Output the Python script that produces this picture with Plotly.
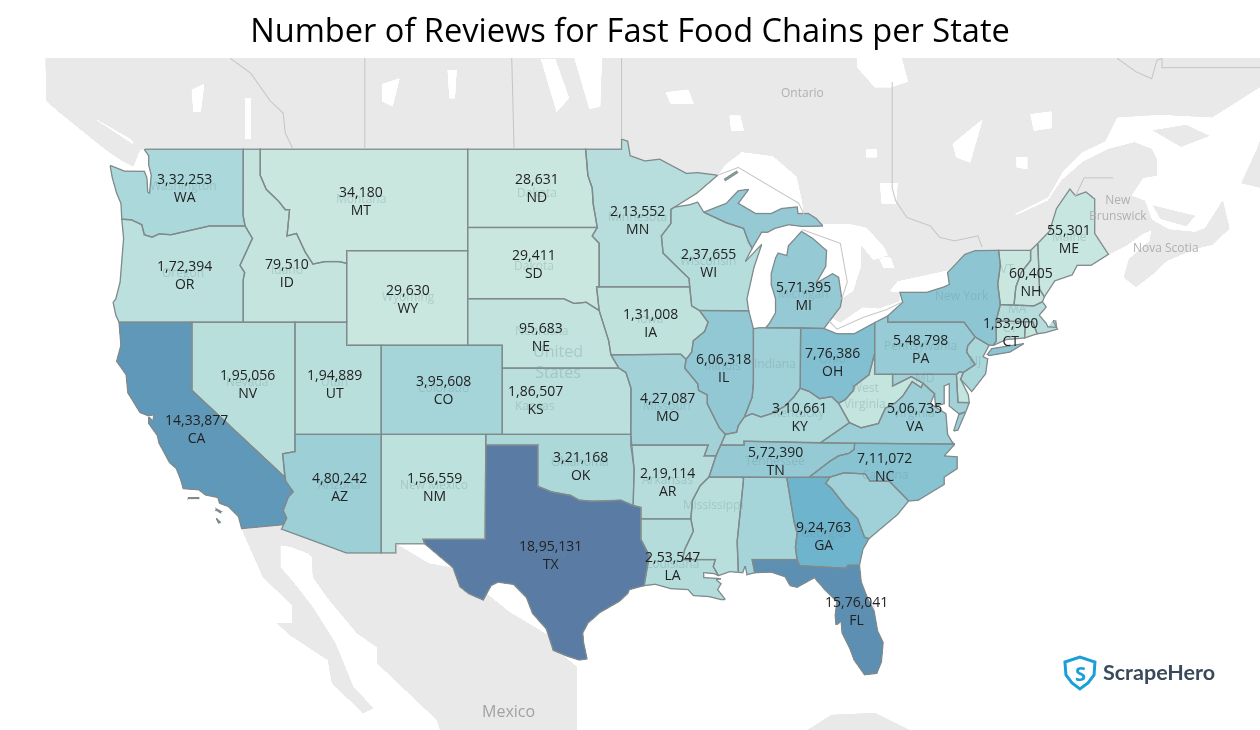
import math

import plotly.graph_objects as go

# Review counts per state (unlabelled states estimated from their colour)
states = ["WA", "OR", "CA", "NV", "ID", "MT", "WY", "UT", "AZ", "CO", "NM", "ND", "SD", "NE", "KS", "OK", "TX",
          "MN", "IA", "MO", "AR", "LA", "WI", "IL", "MI", "IN", "OH", "KY", "TN", "MS", "AL", "GA", "FL", "SC",
          "NC", "VA", "WV", "MD", "DE", "PA", "NJ", "NY", "CT", "RI", "MA", "VT", "NH", "ME"]
reviews = [332253, 172394, 1433877, 195056, 79510, 34180, 29630, 194889, 480242, 395608, 156559, 28631, 29411,
           95683, 186507, 321168, 1895131, 213552, 131008, 427087, 219114, 253547, 237655, 606318, 571395, 450000,
           776386, 310661, 572390, 190000, 380000, 924763, 1576041, 450000, 711072, 506735, 90000, 430000, 90000,
           548798, 340000, 660000, 133900, 70000, 220000, 30000, 60405, 55301]
unlabelled = ["IN", "MS", "AL", "SC", "WV", "MD", "DE", "NJ", "NY", "RI", "MA", "VT"]


def traced(points):
    # outline: pixels to lon/lat (Mercator, 17.3 px per degree)
    out = []
    for x, y in points:
        m = 0.9838 - (y - 149) / 991
        out.append((-131.08 + x / 17.3, math.degrees(2 * math.atan(math.exp(m))) - 90))
    return out


# Shared borders, lon/lat
COLUMBIA = [(-124.05, 46.27), (-123.5, 46.25), (-123.2, 46.15), (-122.9, 46.05), (-122.8, 45.85), (-122.75, 45.65),
            (-122.3, 45.55), (-121.9, 45.68), (-121.2, 45.65), (-120.6, 45.73), (-119.9, 45.84), (-119.3, 45.93),
            (-118.98, 46.0), (-116.92, 46.0)]
SNAKE = [(-116.92, 46.0), (-116.78, 45.8), (-116.5, 45.5), (-116.85, 44.95), (-117.22, 44.4), (-117.03, 44.2),
         (-116.95, 44.1), (-117.03, 43.8), (-117.03, 42.0)]
COLORADO = [(-114.63, 35.0), (-114.57, 34.8), (-114.14, 34.3), (-114.43, 34.05), (-114.72, 33.4), (-114.52, 33.03),
            (-114.72, 32.72)]
BITTERROOT = [(-116.05, 49.0), (-116.05, 48.0), (-115.7, 47.45), (-115.0, 47.0), (-114.6, 46.65), (-114.35, 46.65),
              (-114.5, 45.6), (-113.95, 45.7), (-113.45, 44.95), (-113.0, 44.45), (-112.3, 44.55), (-111.5, 44.55),
              (-111.05, 44.48)]
RED_RIVER = [(-100.0, 34.56), (-99.2, 34.3), (-98.1, 34.13), (-97.6, 33.9), (-96.9, 33.85), (-96.0, 33.85),
             (-95.2, 33.9), (-94.48, 33.64)]
RIO_GRANDE = [(-97.15, 25.96), (-97.6, 25.9), (-98.3, 26.1), (-99.1, 26.4), (-99.5, 27.5), (-100.3, 28.3),
              (-100.65, 29.1), (-101.4, 29.77), (-102.3, 29.88), (-102.7, 29.7), (-103.15, 28.98), (-104.0, 29.3),
              (-104.5, 29.65), (-104.9, 30.6), (-106.0, 31.4), (-106.53, 31.78)]
SABINE = [(-94.04, 33.0), (-94.04, 32.0), (-93.55, 31.2), (-93.7, 30.5), (-93.85, 29.7)]
MINN_DAKOTA = [(-97.23, 49.0), (-97.1, 48.0), (-96.85, 47.5), (-96.8, 46.9), (-96.56, 45.94)]
SD_MN = [(-96.56, 45.94), (-96.85, 45.6), (-96.45, 45.3), (-96.45, 43.5)]
MISSOURI_R = [(-96.45, 42.5), (-96.1, 41.7), (-95.9, 41.2), (-95.77, 40.58)]
MISS_UPPER = [(-92.3, 46.66), (-92.3, 46.1), (-92.85, 45.6), (-92.75, 44.9), (-92.0, 44.4), (-91.25, 43.85),
              (-91.22, 43.5)]
MISS_IA_WI = [(-91.22, 43.5), (-91.1, 42.7), (-90.65, 42.5)]
MISS_IA_IL = [(-90.65, 42.5), (-90.15, 42.0), (-90.35, 41.6), (-91.0, 41.2), (-91.1, 40.7), (-91.42, 40.38)]
MISS_MO_IL = [(-91.42, 40.38), (-91.5, 40.0), (-90.75, 39.3), (-90.7, 39.0), (-90.2, 38.8), (-90.2, 38.4),
              (-89.9, 37.9), (-89.5, 37.3), (-89.15, 37.0)]
MISS_MO_KY = [(-89.15, 37.0), (-89.42, 36.5), (-89.7, 36.0)]
MISS_AR_TN = [(-89.7, 36.0), (-90.1, 35.0)]
MISS_AR_MS = [(-90.1, 35.0), (-90.6, 34.6), (-91.05, 33.9), (-91.15, 33.0)]
MISS_LA_MS = [(-91.15, 33.0), (-91.0, 32.4), (-91.5, 31.5), (-91.63, 31.0)]
OHIO_IN = [(-84.82, 39.1), (-85.2, 38.7), (-85.75, 38.27), (-86.5, 37.95), (-87.1, 37.8), (-87.6, 37.95), (-88.05, 37.8)]
OHIO_IL = [(-88.05, 37.8), (-88.4, 37.4), (-88.5, 37.1), (-89.15, 37.0)]
OHIO_KY = [(-84.82, 39.1), (-84.3, 38.95), (-83.7, 38.63), (-83.0, 38.72), (-82.6, 38.42)]
OHIO_WV = [(-82.6, 38.42), (-82.2, 38.6), (-81.75, 39.0), (-81.7, 39.2), (-80.85, 39.7), (-80.52, 40.64)]
KY_VA = [(-82.6, 38.42), (-82.0, 37.55), (-81.97, 37.54), (-83.68, 36.6)]
TN_NC = [(-81.68, 36.59), (-81.7, 36.3), (-82.0, 36.12), (-82.6, 36.0), (-83.1, 35.75), (-84.32, 34.99)]
VA_WV = [(-81.97, 37.54), (-81.3, 37.3), (-80.3, 37.5), (-79.9, 38.2), (-79.3, 38.45), (-78.87, 38.77), (-78.35, 39.4),
         (-77.83, 39.13), (-77.72, 39.32)]
GA_SC = [(-83.1, 35.0), (-83.35, 34.7), (-83.0, 34.45), (-82.2, 33.6), (-81.5, 33.0), (-81.1, 32.1), (-80.85, 32.03)]
NC_SC = [(-83.1, 35.0), (-82.3, 35.2), (-81.05, 35.15), (-80.8, 34.82), (-79.67, 34.8), (-78.55, 33.86)]
GA_AL = [(-85.6, 34.98), (-85.18, 32.87), (-85.0, 32.3), (-85.1, 31.6), (-85.0, 31.0)]
PA_NJ = [(-74.7, 41.36), (-75.13, 40.99), (-75.2, 40.7), (-74.72, 40.15), (-75.4, 39.8)]
NY_VT = [(-73.35, 45.01), (-73.25, 44.4), (-73.4, 43.6), (-73.25, 42.75)]
VT_NH = [(-71.5, 45.01), (-71.5, 44.6), (-72.05, 44.1), (-72.35, 43.5), (-72.46, 42.73)]
ME_EAST = [(-71.08, 45.3), (-70.4, 45.8), (-70.25, 46.2), (-70.0, 46.7), (-69.23, 47.46), (-68.9, 47.2), (-68.3, 47.35),
           (-67.79, 47.07), (-67.79, 45.7), (-67.45, 45.3), (-67.0, 44.85)]
MN_NORTH = [(-97.23, 49.0), (-95.15, 49.0), (-95.15, 49.38), (-94.8, 49.3), (-94.65, 48.75), (-93.8, 48.55),
            (-92.95, 48.62), (-92.0, 48.3), (-91.4, 48.07), (-90.75, 48.1), (-89.6, 48.0)]
WI_MI = [(-90.4, 46.55), (-89.1, 46.13), (-88.1, 45.9), (-87.8, 45.35), (-87.6, 45.1)]

state_shapes = {
    "WA": [[(-122.76, 49.0), (-117.03, 49.0), (-117.04, 46.42)] + COLUMBIA[::-1] +
           [(-124.1, 46.9), (-124.35, 47.3), (-124.6, 47.9), (-124.73, 48.38), (-123.9, 48.16), (-123.1, 48.15),
            (-122.75, 48.15), (-122.6, 47.9), (-122.55, 47.35), (-122.45, 47.3), (-122.4, 47.6), (-122.35, 48.0),
            (-122.5, 48.4), (-122.5, 48.75)]],
    "OR": [COLUMBIA + SNAKE[1:] +
           [(-120.0, 42.0), (-124.21, 42.0), (-124.4, 42.3), (-124.55, 42.84), (-124.4, 43.0), (-124.15, 43.7),
            (-124.08, 44.6), (-123.95, 45.5)]],
    "CA": [[(-124.21, 42.0), (-120.0, 42.0), (-120.0, 39.0)] + COLORADO +
           [(-117.12, 32.53), (-117.25, 32.85), (-117.3, 33.1), (-117.9, 33.6), (-118.4, 33.75), (-118.5, 34.03),
            (-119.2, 34.15), (-119.6, 34.4), (-120.5, 34.45), (-120.65, 34.9), (-120.9, 35.4), (-121.3, 35.7),
            (-121.9, 36.6), (-122.0, 36.95), (-122.5, 37.5), (-122.5, 37.8), (-122.25, 37.6), (-122.2, 37.9),
            (-122.5, 37.85), (-123.0, 38.0), (-123.7, 38.9), (-123.8, 39.7), (-124.35, 40.3), (-124.1, 41.0)],
           [(-120.2, 34.02), (-119.6, 34.02), (-119.6, 33.98), (-120.2, 33.98)],
           [(-118.6, 33.48), (-118.3, 33.35), (-118.35, 33.3), (-118.6, 33.42)],
           [(-118.6, 33.03), (-118.35, 32.82), (-118.45, 32.8), (-118.6, 32.98)]],
    "NV": [[(-120.0, 42.0), (-114.04, 42.0), (-114.04, 36.2), (-114.75, 36.1), (-114.63, 35.0), (-120.0, 39.0)]],
    "ID": [[(-117.03, 49.0)] + BITTERROOT + [(-111.05, 42.0)] + SNAKE[::-1] + [(-117.04, 46.42)]],
    "MT": [BITTERROOT[:1] + [(-104.05, 49.0), (-104.05, 45.0), (-111.05, 45.0)] + BITTERROOT[:0:-1]],
    "WY": [[(-111.05, 45.0), (-104.05, 45.0), (-104.05, 41.0), (-111.05, 41.0)]],
    "UT": [[(-114.04, 42.0), (-111.05, 42.0), (-111.05, 41.0), (-109.05, 41.0), (-109.05, 37.0), (-114.04, 37.0)]],
    "AZ": [[(-114.04, 37.0), (-109.05, 37.0), (-109.05, 31.33), (-111.07, 31.33), (-114.81, 32.5)] + COLORADO[::-1] +
           [(-114.75, 36.1), (-114.04, 36.2)]],
    "CO": [[(-109.05, 41.0), (-102.05, 41.0), (-102.05, 37.0), (-109.05, 37.0)]],
    "NM": [[(-109.05, 37.0), (-103.0, 37.0), (-103.04, 32.0), (-106.62, 32.0), (-106.53, 31.78), (-108.21, 31.78),
            (-108.21, 31.33), (-109.05, 31.33)]],
    "ND": [[(-104.05, 49.0)] + MINN_DAKOTA + [(-104.05, 45.94)]],
    "SD": [[(-104.05, 45.94)] + SD_MN + [(-96.6, 43.5), (-96.45, 42.5), (-97.2, 42.85), (-97.9, 42.8), (-98.5, 43.0),
                                        (-104.05, 43.0)]],
    "NE": [[(-104.05, 43.0), (-98.5, 43.0), (-97.9, 42.8), (-97.2, 42.85)] + MISSOURI_R +
           [(-95.31, 40.0), (-102.05, 40.0), (-102.05, 41.0), (-104.05, 41.0)]],
    "KS": [[(-102.05, 40.0), (-95.31, 40.0), (-94.9, 39.8), (-94.61, 39.1), (-94.62, 37.0), (-102.05, 37.0)]],
    "OK": [[(-103.0, 37.0), (-94.62, 37.0), (-94.43, 35.4)] + RED_RIVER[::-1] + [(-100.0, 36.5), (-103.0, 36.5)]],
    "TX": [[(-106.62, 32.0), (-103.04, 32.0), (-103.0, 36.5), (-100.0, 36.5)] + RED_RIVER +
           [(-94.04, 33.55)] + SABINE +
           [(-94.7, 29.5), (-94.8, 29.3), (-95.3, 28.9), (-96.4, 28.35), (-97.1, 27.8), (-97.4, 27.3), (-97.35, 26.8)] +
           RIO_GRANDE],
    "MN": [MN_NORTH + [(-90.8, 47.3)] + MISS_UPPER + SD_MN[::-1] + MINN_DAKOTA[::-1][1:]],
    "IA": [[(-96.6, 43.5), (-96.45, 43.5)] + MISS_IA_WI + MISS_IA_IL[1:] + [(-91.73, 40.61)] + MISSOURI_R[::-1]],
    "MO": [[(-95.77, 40.58), (-91.73, 40.61)] + MISS_MO_IL + MISS_MO_KY[1:] +
           [(-90.37, 36.0), (-90.15, 36.5), (-94.62, 36.5), (-94.62, 37.0), (-94.61, 39.1), (-94.9, 39.8),
            (-95.31, 40.0)]],
    "AR": [[(-94.62, 36.5), (-90.15, 36.5), (-90.37, 36.0)] + MISS_AR_TN + MISS_AR_MS[1:] +
           [(-94.04, 33.0), (-94.04, 33.55), (-94.48, 33.64), (-94.43, 35.4)]],
    "LA": [[(-94.04, 33.0)] + MISS_LA_MS +
           [(-89.73, 31.0), (-89.85, 30.65), (-89.55, 30.2), (-89.8, 30.3), (-90.4, 30.35), (-90.4, 30.1), (-89.9, 30.05),
            (-89.4, 30.05), (-89.7, 30.0), (-89.4, 29.8), (-89.6, 29.5), (-89.15, 29.0), (-89.4, 29.0), (-90.1, 29.15),
            (-91.0, 29.2), (-91.3, 29.5), (-91.8, 29.5), (-92.3, 29.55), (-93.2, 29.77)] +
           SABINE[:0:-1]],
    "WI": [[(-92.3, 46.66), (-92.1, 46.75), (-91.2, 46.85), (-90.75, 46.95)] + WI_MI +
           [(-88.0, 44.55), (-87.05, 45.25), (-87.5, 44.3), (-87.9, 43.0), (-87.8, 42.49)] +
           MISS_IA_WI[::-1] + MISS_UPPER[:-1][::-1]],
    "IL": [[(-90.65, 42.5), (-87.8, 42.49), (-87.53, 41.72), (-87.53, 39.35), (-87.6, 38.7)] + OHIO_IL +
           MISS_MO_IL[::-1][1:] + MISS_IA_IL[::-1][1:-1]],
    "IN": [[(-87.53, 41.72), (-87.2, 41.76), (-86.82, 41.76), (-84.8, 41.76)] + OHIO_IN +
           [(-87.6, 38.7), (-87.53, 39.35)]],
    "MI": [[(-86.82, 41.76), (-84.8, 41.76), (-83.45, 41.73), (-83.15, 42.05), (-82.5, 42.65), (-82.42, 43.0),
            (-82.6, 43.9), (-82.95, 44.05), (-83.9, 43.65), (-83.35, 44.35), (-83.3, 45.0), (-84.1, 45.5), (-84.75, 45.78),
            (-85.0, 45.6), (-85.5, 45.2), (-85.6, 44.8), (-86.1, 44.9), (-86.25, 44.7), (-86.5, 44.05), (-86.5, 43.6),
            (-86.25, 43.0), (-86.25, 42.4), (-86.6, 41.95)],
           [(-90.4, 46.55), (-89.1, 46.9), (-88.4, 47.4), (-87.8, 47.45), (-88.4, 46.9), (-87.4, 46.5), (-86.5, 46.5),
            (-85.9, 46.7), (-85.0, 46.76), (-84.95, 46.5), (-84.35, 46.5), (-83.9, 46.3), (-83.5, 46.0), (-84.1, 46.0),
            (-84.7, 45.98), (-85.5, 46.05), (-86.3, 45.9), (-86.7, 45.75), (-87.05, 45.75)] + WI_MI[::-1][:-1],
           [(-89.2, 47.85), (-88.5, 48.15), (-88.45, 48.1), (-89.15, 47.8)]],
    "OH": [[(-84.8, 41.76), (-83.45, 41.73), (-82.7, 41.5), (-81.7, 41.5), (-80.52, 41.98)] + OHIO_WV[::-1] +
           OHIO_KY[::-1][1:]],
    "KY": [OHIO_KY + KY_VA[1:] + [(-88.07, 36.68), (-88.07, 36.5), (-89.42, 36.5), (-89.15, 37.0)] + OHIO_IL[::-1][1:] +
           OHIO_IN[::-1][1:-1]],
    "TN": [[(-89.42, 36.5), (-88.07, 36.5), (-88.07, 36.68), (-83.68, 36.6)] + TN_NC +
           [(-85.6, 34.98), (-88.2, 35.0), (-90.1, 35.0), (-89.7, 36.0)]],
    "MS": [[(-90.1, 35.0), (-88.2, 35.0), (-88.1, 34.9), (-88.47, 31.9), (-88.4, 30.37), (-88.9, 30.4), (-89.55, 30.2),
            (-89.85, 30.65), (-89.73, 31.0)] + MISS_LA_MS[::-1] + MISS_AR_MS[::-1][1:-1]],
    "AL": [[(-88.2, 35.0)] + GA_AL + [(-87.6, 31.0), (-87.45, 30.35), (-87.9, 30.25), (-88.0, 30.7), (-88.15, 30.35),
                                      (-88.4, 30.37), (-88.47, 31.9), (-88.1, 34.9)]],
    "GA": [[(-85.6, 34.98), (-84.32, 34.99)] + GA_SC +
           [(-81.2, 31.5), (-81.4, 30.72), (-82.05, 30.72), (-82.2, 30.57), (-84.86, 30.7)] + GA_AL[::-1][:-1]],
    "FL": [[(-87.6, 31.0), (-85.0, 31.0), (-84.86, 30.7), (-82.2, 30.57), (-82.05, 30.72), (-81.4, 30.72), (-81.3, 29.9),
            (-80.9, 29.0), (-80.55, 28.4), (-80.35, 27.4), (-80.03, 26.8), (-80.13, 25.8), (-80.4, 25.2), (-81.1, 25.13),
            (-81.7, 25.9), (-81.95, 26.5), (-82.4, 27.3), (-82.45, 27.9), (-82.75, 27.7), (-82.8, 28.2), (-82.7, 28.9),
            (-83.4, 29.5), (-84.0, 30.1), (-85.0, 29.62), (-85.4, 29.7), (-85.7, 30.15), (-86.5, 30.38), (-87.45, 30.35)]],
    "SC": [NC_SC + [(-79.2, 33.2), (-79.9, 32.7)] + GA_SC[::-1][:-1]],
    "NC": [[(-81.68, 36.59), (-75.87, 36.55), (-76.5, 36.0), (-75.75, 35.95), (-75.75, 35.4), (-76.5, 35.0), (-76.5, 34.65),
            (-77.6, 34.1), (-78.0, 33.9)] + NC_SC[::-1] + [(-84.32, 34.99)] + TN_NC[::-1][1:-1]],
    "VA": [[(-83.68, 36.6), (-81.97, 37.54)] + VA_WV[1:] +
           [(-77.05, 38.85), (-77.3, 38.4), (-76.4, 37.95), (-76.3, 37.0), (-75.97, 36.55), (-75.87, 36.55),
            (-81.68, 36.59)],
           [(-75.95, 37.15), (-75.65, 37.9), (-75.25, 38.03), (-75.7, 37.2)]],
    "WV": [OHIO_WV + [(-80.52, 39.72), (-79.48, 39.72), (-79.48, 39.2), (-78.4, 39.62)] + VA_WV[::-1] + [(-82.0, 37.55)]],
    "MD": [[(-79.48, 39.72), (-75.79, 39.72), (-75.7, 38.46), (-75.05, 38.45), (-75.25, 38.03), (-75.65, 37.95),
            (-76.2, 38.3), (-76.2, 39.3), (-76.5, 39.2), (-76.5, 38.4), (-77.0, 38.3), (-77.05, 38.85), (-77.72, 39.32),
            (-78.4, 39.62), (-79.48, 39.2)]],
    "DE": [[(-75.79, 39.72), (-75.6, 39.83), (-75.4, 39.8), (-75.55, 39.5), (-75.1, 38.8), (-75.05, 38.45), (-75.7, 38.46)]],
    "PA": [[(-80.52, 41.98), (-79.76, 42.27), (-79.76, 42.0), (-75.35, 42.0)] + PA_NJ +
           [(-75.6, 39.83), (-75.79, 39.72), (-80.52, 39.72), (-80.52, 40.64)]],
    "NJ": [[(-74.7, 41.36), (-73.9, 41.0), (-74.25, 40.5), (-73.98, 40.4), (-74.1, 39.75), (-74.9, 38.95),
            (-75.55, 39.5)] + PA_NJ[::-1][:-1]],
    "NY": [[(-79.76, 42.27), (-78.9, 42.85), (-79.05, 43.27), (-77.5, 43.27), (-76.5, 43.5), (-76.2, 43.6), (-76.3, 44.1),
            (-75.3, 44.85), (-74.7, 45.0)] + NY_VT +
           [(-73.5, 42.05), (-73.48, 41.2), (-73.65, 41.0), (-73.9, 41.0), (-74.7, 41.36), (-75.35, 42.0), (-79.76, 42.0)],
           [(-74.0, 40.6), (-73.75, 40.85), (-72.6, 40.98), (-71.9, 41.07), (-72.7, 40.7), (-73.9, 40.55)]],
    "VT": [NY_VT[:1] + VT_NH + NY_VT[::-1][:-1]],
    "NH": [VT_NH[:1] + [(-71.08, 45.3), (-70.98, 43.4), (-70.7, 43.08), (-70.82, 42.87), (-71.3, 42.7)] + VT_NH[:0:-1]],
    "ME": [ME_EAST + [(-68.0, 44.4), (-68.8, 44.4), (-69.1, 44.0), (-70.1, 43.75), (-70.7, 43.08), (-70.98, 43.4)]],
    "MA": [[(-73.5, 42.05), (-73.25, 42.75), (-72.46, 42.73), (-71.3, 42.7), (-70.82, 42.87), (-70.6, 42.65), (-71.0, 42.3),
            (-70.6, 41.95), (-70.5, 41.8), (-70.0, 41.78), (-70.05, 42.05), (-70.2, 42.07), (-69.95, 41.7), (-70.65, 41.55),
            (-71.12, 41.5), (-71.38, 42.02), (-71.8, 42.02)]],
    "RI": [[(-71.8, 42.02), (-71.38, 42.02), (-71.12, 41.5), (-71.85, 41.32)]],
    "CT": [[(-73.5, 42.05), (-71.8, 42.02), (-71.85, 41.32), (-72.9, 41.25), (-73.65, 41.0), (-73.48, 41.2)]],
}

# Base map: land around the states, lakes cut out on top of it
land_shapes = {
    "CAN": [[(-135.0, 58.0), (-128.5, 54.0), (-128.4, 50.8), (-127.7, 50.4), (-126.7, 49.9), (-125.0, 49.0), (-124.0, 48.55),
             (-123.4, 48.35), (-123.2, 48.65), (-123.0, 49.0)] +
            [(-97.23, 49.0)] + MN_NORTH[1:] +
            [(-89.2, 48.4), (-88.2, 48.9), (-86.4, 48.75), (-85.0, 47.95), (-84.7, 47.0), (-84.6, 46.5), (-84.1, 46.3),
             (-83.6, 46.1), (-82.0, 46.1), (-81.0, 45.95), (-80.0, 45.2), (-79.7, 44.8), (-80.6, 44.6), (-81.3, 45.2),
             (-81.3, 44.3), (-81.75, 43.3), (-82.42, 43.0), (-82.5, 42.65), (-83.1, 42.25), (-82.5, 42.0), (-81.2, 42.65),
             (-80.3, 42.6), (-79.1, 42.9), (-79.05, 43.25), (-79.7, 43.3), (-79.2, 43.75), (-77.5, 44.0), (-76.3, 44.2),
             (-75.3, 44.85), (-74.7, 45.0), (-71.5, 45.01)] + ME_EAST +
            [(-66.0, 45.2), (-65.0, 45.7), (-64.5, 45.85), (-64.6, 45.4), (-65.8, 44.65), (-66.1, 43.9), (-65.4, 43.5),
             (-64.5, 44.0), (-63.6, 44.6), (-61.9, 45.1), (-61.0, 45.25), (-60.0, 45.9), (-60.4, 47.0), (-61.4, 45.9),
             (-62.0, 45.75), (-63.5, 45.85), (-64.5, 46.25), (-64.9, 47.0), (-65.7, 47.2), (-65.0, 47.9), (-64.2, 48.0),
             (-64.2, 48.6), (-64.5, 49.0), (-65.5, 49.25), (-67.0, 49.0), (-68.5, 48.5), (-69.7, 47.8), (-70.5, 47.0),
             (-72.4, 46.4), (-72.4, 46.5), (-70.5, 47.15), (-69.7, 48.1), (-68.5, 48.9), (-67.2, 49.3), (-66.5, 50.2),
             (-64.0, 50.3), (-61.0, 50.2), (-58.0, 51.4), (-55.0, 52.0), (-55.0, 58.0)]],
    "MEX": [RIO_GRANDE[::-1] +
            [(-108.21, 31.78), (-108.21, 31.33), (-111.07, 31.33), (-114.81, 32.5), (-114.72, 32.72), (-117.12, 32.53)] +
            traced([(263, 577), (275, 588), (292, 605), (292, 623), (277, 623), (290, 635), (328, 660), (332, 683), (363, 713),
                    (373, 708), (353, 687), (335, 643), (313, 608), (297, 587), (280, 567), (280, 545), (302, 548), (312, 557),
                    (313, 577), (327, 597), (357, 633), (377, 647), (377, 663), (437, 720), (450, 760), (577, 760), (577, 667)])],
    "CUB": [[(-84.9, 21.9), (-83.0, 23.0), (-80.5, 23.1), (-77.0, 21.5), (-80.0, 21.5)]],
    "ANT": [[(-62.5, 49.9), (-61.2, 49.5), (-62.8, 49.1), (-64.4, 49.7)]],
    "NFL": [[(-59.3, 47.7), (-58.4, 49.0), (-57.5, 50.5), (-55.0, 50.0), (-55.0, 47.0)]],
    "PEI": [[(-64.4, 46.8), (-62.0, 46.4), (-62.5, 46.0), (-64.0, 46.3)]],
    "LK1": [[(-99.8, 52.3), (-99.0, 52.3), (-98.2, 50.9), (-98.9, 50.4), (-99.3, 51.2)]],
    "LK2": [[(-97.9, 52.4), (-96.3, 52.4), (-96.4, 50.6), (-97.0, 50.5)]],
    "LK3": [[(-88.9, 50.25), (-88.3, 50.25), (-88.1, 49.7), (-88.8, 49.7)]],
    "LK4": [[(-92.6, 51.1), (-91.3, 51.2), (-91.0, 50.7), (-92.3, 50.7)]],
    "LK5": [[(-76.0, 49.2), (-74.3, 50.1), (-75.0, 48.5), (-75.8, 48.7)]],
    "LK6": [[(-71.5, 50.3), (-70.3, 50.4), (-70.3, 49.8), (-71.3, 49.7)]],
    "LK7": [[(-72.3, 48.7), (-71.7, 48.7), (-71.7, 48.25), (-72.3, 48.3)]],
    "LK8": [[(-80.2, 47.7), (-79.2, 47.7), (-79.3, 46.9), (-80.1, 46.9)]],
    "LK9": [[(-81.0, 49.0), (-80.4, 49.0), (-80.4, 48.7), (-81.0, 48.7)]],
    "LK10": [[(-80.3, 44.75), (-79.6, 44.7), (-79.4, 44.3), (-80.0, 44.3)]],
    "LK11": [[(-109.0, 51.4), (-108.0, 51.6), (-108.4, 50.6), (-109.0, 50.8)]],
    "LK12": [[(-105.2, 51.9), (-104.7, 51.9), (-104.8, 50.9), (-105.1, 50.9)]],
    "LK13": [[(-120.0, 51.2), (-119.3, 51.4), (-119.5, 50.4), (-119.9, 50.4)]],
    "LK14": [[(-116.9, 50.9), (-116.6, 50.9), (-116.6, 49.4), (-116.9, 49.4)]],
    "LK15": [[(-125.5, 50.1), (-123.5, 49.35), (-123.4, 49.2), (-125.3, 50.0)]],
    "LK16": [[(-81.5, 52.4), (-79.0, 52.4), (-78.6, 51.5), (-79.6, 51.3), (-80.5, 51.3), (-81.5, 52.0)]],
}
land_ids = list(land_shapes)
land_level = [0 if k.startswith("LK") else 1 for k in land_ids]

# Thin boundaries drawn over the base map
boundary_lines = [
    [(-117.78, 52.33), (-116.6, 51.8), (-115.47, 50.8), (-114.72, 50.35), (-114.6, 49.6), (-114.15, 49.0)],
    [(-110.0, 52.33), (-110.0, 49.0)],
    [(-101.5, 52.33), (-101.37, 49.0)],
    [(-95.15, 52.33), (-95.15, 49.38)],
    [(-79.5, 51.5), (-79.5, 47.5), (-79.3, 47.0), (-78.65, 46.34), (-77.3, 46.0), (-76.75, 45.54), (-75.9, 45.4),
     (-74.55, 45.6), (-74.3, 45.14)],
    [(-68.9, 47.2), (-68.4, 47.9), (-67.6, 47.9), (-66.75, 47.9)],
    [(-66.5, 52.33), (-65.4, 51.85), (-64.5, 51.6), (-64.2, 52.25), (-63.9, 52.33), (-63.9, 52.0), (-58.25, 52.0)],
    [(-89.6, 48.0), (-88.4, 48.3), (-84.9, 46.9), (-84.6, 46.45)],
    [(-84.7, 45.85), (-82.5, 45.3), (-82.1, 43.7), (-82.42, 43.0)],
    [(-83.15, 42.05), (-82.7, 41.7), (-81.2, 42.2), (-79.8, 42.55), (-78.95, 42.85)],
]


def to_geojson(shapes):
    features = []
    for key, rings in shapes.items():
        coords = [[[list(p) for p in r + r[:1]]] for r in rings]
        features.append({"type": "Feature", "id": key, "properties": {},
                         "geometry": {"type": "MultiPolygon", "coordinates": coords}})
    return {"type": "FeatureCollection", "features": features}


def indian(n):
    s = str(n)
    if len(s) <= 3:
        return s
    head, tail = s[:-3], s[-3:]
    parts = []
    while len(head) > 2:
        parts.insert(0, head[-2:])
        head = head[:-2]
    if head:
        parts.insert(0, head)
    return ",".join(parts + [tail])


fig = go.Figure()

fig.add_trace(go.Choroplethmap(
    geojson=to_geojson(land_shapes), locations=land_ids, z=land_level,
    colorscale=[[0, "white"], [1, "#e9e9e9"]], zmin=0, zmax=1, showscale=False,
    marker=dict(line=dict(width=0)), hoverinfo="skip"))

for line in boundary_lines:
    fig.add_trace(go.Scattermap(lon=[p[0] for p in line], lat=[p[1] for p in line], mode="lines",
                                line=dict(color="#c4c4c4", width=1), hoverinfo="skip", showlegend=False))

fig.add_trace(go.Choroplethmap(
    geojson=to_geojson(state_shapes), locations=states, z=reviews,
    colorscale=[[0, "#cae7df"], [0.16, "#abd8da"], [0.40, "#82bfd1"], [0.48, "#6fb4cd"], [0.75, "#5f98b8"], [1, "#5a7ca4"]],
    showscale=False, marker=dict(line=dict(color="#7f8a8c", width=1.3))))

# Value labels sit at Tableau's own label spots, given in pixels of the 1260x730 picture
label_px = {"WA": (184, 187), "OR": (184, 274), "CA": (196, 428), "NV": (247, 384), "ID": (287, 272), "MT": (361, 200),
            "WY": (408, 298), "UT": (334, 384), "AZ": (339, 486), "CO": (443, 389), "NM": (434, 486), "ND": (537, 187),
            "SD": (534, 263), "NE": (541, 336), "KS": (535, 399), "OK": (580, 465), "TX": (550, 554), "MN": (637, 219),
            "IA": (650, 322), "MO": (667, 406), "AR": (667, 482), "LA": (672, 565), "WI": (708, 262), "IL": (723, 367),
            "MI": (803, 295), "OH": (832, 361), "KY": (799, 416), "TN": (775, 460), "GA": (823, 535), "FL": (856, 610),
            "NC": (885, 466), "VA": (914, 416), "PA": (920, 348), "CT": (1010, 331), "NH": (1031, 281), "ME": (1069, 238)}

# Faint place names of the base map
map_names = {"Washington": (183, 185), "Oregon": (183, 272), "Idaho": (287, 270), "Montana": (361, 198), "Wyoming": (408, 296),
             "California": (196, 425), "Nevada": (247, 381), "Utah": (334, 381), "Colorado": (443, 387), "Arizona": (339, 484),
             "New Mexico": (434, 484), "Dakota": (537, 192), "Dakota ": (534, 266), "Nebraska": (541, 330), "Kansas": (535, 405),
             "Oklahoma": (580, 462), "Texas": (550, 552), "Minnesota": (637, 217), "Iowa": (650, 318), "Missouri": (667, 405),
             "Arkansas": (667, 479), "Louisiana": (672, 563), "Mississippi": (713, 504), "Georgia": (823, 532), "Florida": (856, 607),
             "Tennessee": (775, 460), "Kentucky": (799, 413), "Illinois": (723, 365), "Indiana": (775, 364), "Ohio": (832, 358),
             "Michigan": (803, 293), "Wisconsin": (708, 260), "Pennsylvania": (920, 345), "New York": (962, 295),
             "Virginia": (914, 413), "West<br>Virginia": (865, 395), "Maine": (1069, 236), "MD": (925, 377), "NJ": (975, 360),
             "MA": (1017, 308), "VT": (1007, 268), "CT": (1010, 328), "Carolina": (885, 474)}
country_names = {"Ontario": (802, 93), "New<br>Brunswick": (1118, 208), "Nova Scotia": (1166, 247)}

annotations = []


def px_note(text, pos, size, color):
    annotations.append(dict(text=text, x=pos[0] / 1260, y=1 - pos[1] / 730, xref="paper", yref="paper", showarrow=False,
                            xanchor="center", yanchor="middle", font=dict(family="Open Sans", size=size, color=color)))


for name, pos in map_names.items():
    px_note(name.strip(), pos, 12, "rgba(110,150,155,0.32)")
px_note("United<br>States", (558, 361), 16, "rgba(130,160,165,0.4)")
for name, pos in country_names.items():
    px_note(name, pos, 12, "#b0b0b0")
px_note("Mexico", (508, 711), 16, "#a2a2a2")
for st, val in zip(states, reviews):
    if st not in unlabelled:
        px_note(f"{indian(val)}<br>{st}", label_px[st], 14, "#222222")

# ScrapeHero mark
px_note("<b>S</b>", (1080, 673), 20, "#1c9fd8")
annotations.append(dict(text="<b>ScrapeHero</b>", x=1101 / 1260, y=1 - 672 / 730, xref="paper", yref="paper", showarrow=False,
                        xanchor="left", yanchor="middle", font=dict(family="Lato", size=21.5, color="#3b4a5a")))

shield = [(1065, 662), (1080, 657), (1095, 662), (1094, 675), (1088, 683), (1080, 689), (1072, 683), (1066, 675)]
shield_path = "M " + " L ".join(f"{x / 1260:.4f},{1 - y / 730:.4f}" for x, y in shield) + " Z"

fig.update_layout(
    title=dict(text="Number of Reviews for Fast Food Chains per State", x=0.5, xanchor="center", y=0.958, yanchor="middle",
               font=dict(family="Open Sans", size=32.6, color="black")),
    map=dict(style="white-bg", center=dict(lon=-94.665, lat=38.84), zoom=3.604, domain=dict(x=[0, 1], y=[0, 672 / 730])),
    shapes=[dict(type="path", path=shield_path, xref="paper", yref="paper", fillcolor="white",
                 line=dict(color="#1c9fd8", width=3))],
    annotations=annotations,
    margin=dict(l=0, r=0, t=0, b=0),
    paper_bgcolor="white",
    width=1260, height=730,
)

# body margin would push the whole picture 8px off
fig.write_html("out.html", config=dict(displayModeBar=False), post_script="document.body.style.margin='0';")
